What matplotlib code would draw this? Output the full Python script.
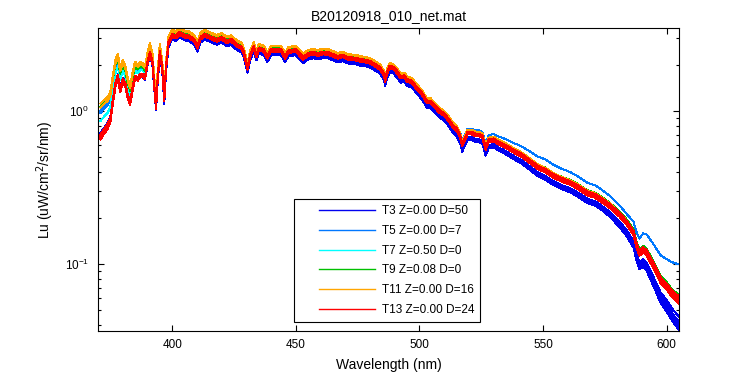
import numpy as np
import matplotlib
matplotlib.use('Agg')
import matplotlib.pyplot as plt
from matplotlib.lines import Line2D
from matplotlib.legend_handler import HandlerLine2D
from matplotlib.ticker import NullFormatter

# base spectrum (red bundle centre)
wavelength = [
    371, 372, 374, 375, 376, 377, 378, 379, 380, 381,
    382, 383, 384, 385, 386, 387, 388, 389, 390, 391,
    392, 393, 393.5, 394, 395, 396, 396.8, 397.5, 398.5, 400,
    401.5, 403, 405, 407, 409, 410.2, 411.5, 413, 415, 417,
    418, 420, 422, 424, 426, 428, 429, 430.5, 431.5, 433,
    434.1, 435, 437, 438.5, 440, 442, 444, 445.7, 447, 450,
    451.5, 453, 455, 457, 459, 461, 463, 465, 467, 469,
    471, 473, 475, 476, 478, 480, 482, 484, 485.5, 486.2,
    487, 488, 489.5, 491, 492.3, 494, 495, 497, 499, 501,
    503, 504.5, 506, 508, 510, 512, 513.5, 515, 516.5, 517.3,
    518.3, 519.5, 521, 522.5, 524, 525.5, 526.8, 528, 530, 532,
    534, 535.6, 538, 541, 544, 548, 551, 554, 557, 561,
    564, 568, 571, 574, 577, 581, 584, 586.6, 588, 589,
    590.5, 592, 593.5, 595, 597.6, 600, 601.6, 603, 605, 606]

lu_base = [
    0.68, 0.72, 0.80, 0.88, 1.15, 1.48, 1.67, 1.37, 1.59, 1.50,
    1.25, 1.13, 1.40, 1.67, 1.62, 1.70, 1.72, 1.65, 2.05, 2.39,
    2.10, 1.30, 1.06, 1.50, 2.43, 1.90, 1.18, 1.90, 2.78, 3.14,
    3.05, 3.23, 3.10, 3.05, 2.90, 2.62, 3.00, 3.14, 3.05, 2.95,
    2.91, 3.00, 2.85, 2.90, 2.70, 2.60, 2.40, 1.91, 2.30, 2.62,
    2.30, 2.55, 2.50, 2.25, 2.50, 2.50, 2.50, 2.25, 2.45, 2.50,
    2.35, 2.22, 2.35, 2.39, 2.35, 2.40, 2.39, 2.32, 2.25, 2.30,
    2.22, 2.20, 2.18, 2.15, 2.13, 2.09, 2.00, 1.91, 1.75, 1.59,
    1.80, 1.95, 1.91, 1.80, 1.67, 1.68, 1.59, 1.55, 1.41, 1.30,
    1.15, 1.15, 1.08, 1.00, 0.95, 0.87, 0.80, 0.76, 0.68, 0.60,
    0.65, 0.72, 0.72, 0.70, 0.70, 0.68, 0.57, 0.64, 0.65, 0.62,
    0.60, 0.58, 0.55, 0.52, 0.48, 0.43, 0.41, 0.38, 0.36, 0.34,
    0.32, 0.29, 0.28, 0.26, 0.24, 0.21, 0.185, 0.16, 0.13, 0.118,
    0.124, 0.118, 0.106, 0.095, 0.078, 0.071, 0.0656, 0.062, 0.058, 0.057]

# ratio of each cast to the base spectrum, read at these wavelengths
wl_ratio = [370, 380, 390, 400, 450, 500, 525, 550, 575, 585, 590, 600, 605]

t3_casts = [
    [1.06, 1.04, 1.00, 0.97, 0.96, 0.95, 0.94, 0.92, 0.92, 0.89, 0.87, 0.82, 0.78],
    [1.04, 1.02, 0.99, 0.96, 0.95, 0.94, 0.93, 0.91, 0.90, 0.86, 0.84, 0.77, 0.72],
    [1.02, 1.01, 0.98, 0.95, 0.94, 0.93, 0.92, 0.89, 0.88, 0.84, 0.81, 0.73, 0.68],
    [1.00, 1.00, 0.97, 0.94, 0.93, 0.92, 0.90, 0.87, 0.86, 0.81, 0.78, 0.69, 0.64]]
t5_casts = [
    [1.50, 1.30, 1.10, 1.05, 1.04, 1.05, 1.07, 1.18, 1.17, 1.14, 1.27, 1.52, 1.72],
    [1.45, 1.25, 1.08, 1.04, 1.03, 1.03, 1.02, 1.02, 1.03, 1.04, 1.05, 1.06, 1.07]]
t7_casts = [
    [1.28, 1.15, 1.06, 1.05, 1.05, 1.04, 1.03, 1.03, 1.03, 1.03, 1.04, 1.05, 1.06]]
t9_casts = [
    [1.62, 1.25, 1.10, 1.05, 1.04, 1.04, 1.04, 1.04, 1.05, 1.05, 1.06, 1.07, 1.08]]
t11_casts = [
    [1.68, 1.36, 1.17, 1.09, 1.07, 1.06, 1.05, 1.04, 1.04, 1.03, 1.03, 1.03, 1.03],
    [1.58, 1.30, 1.14, 1.07, 1.06, 1.05, 1.04, 1.03, 1.03, 1.02, 1.02, 1.02, 1.02]]
t13_casts = [
    [1.00, 1.00, 1.00, 1.00, 1.00, 1.00, 1.00, 1.00, 1.00, 1.00, 1.00, 1.00, 1.00],
    [0.96, 0.97, 0.98, 0.98, 0.98, 0.98, 0.98, 0.97, 0.97, 0.97, 0.96, 0.96, 0.95],
    [1.04, 1.03, 1.02, 1.02, 1.02, 1.02, 1.02, 1.02, 1.03, 1.03, 1.04, 1.05, 1.06],
    [0.98, 0.99, 0.99, 0.99, 0.99, 1.00, 1.00, 0.99, 0.99, 0.99, 0.98, 0.98, 0.98],
    [1.02, 1.01, 1.01, 1.01, 1.01, 1.01, 1.01, 1.01, 1.01, 1.02, 1.02, 1.03, 1.03]]

labels = ['T3 Z=0.00 D=50', 'T5 Z=0.00 D=7', 'T7 Z=0.50 D=0',
          'T9 Z=0.08 D=0', 'T11 Z=0.00 D=16', 'T13 Z=0.00 D=24']
colors = ['#0000f0', '#0078ff', '#00ffff', '#00c000', '#ffa500', '#ff0000']
casts = [t3_casts, t5_casts, t7_casts, t9_casts, t11_casts, t13_casts]

plt.rcParams['font.family'] = ['Liberation Sans', 'DejaVu Sans']
plt.rcParams['font.size'] = 8.5

fig = plt.figure(figsize=(7.5, 3.75), dpi=100)
ax = fig.add_axes([98 / 750, 1 - 331 / 375, 581 / 750, 303 / 375])

base = np.array(lu_base)
for label, color, group in zip(labels, colors, casts):
    for i, r in enumerate(group):
        lu = base * np.interp(wavelength, wl_ratio, r)
        ax.plot(wavelength, lu, color=color, lw=0.75, antialiased=False,
                label=label if i == 0 else None)

ax.set_yscale('log')
ax.set_xlim(370, 605)
ax.set_ylim(0.0365, 3.5)
ax.set_xticks([400, 450, 500, 550, 600])
ax.yaxis.set_minor_formatter(NullFormatter())
ax.tick_params(which='both', direction='in', top=True, right=True, width=0.8)
ax.tick_params(which='major', length=4.3)
ax.tick_params(which='minor', length=2.2)
ax.tick_params(axis='x', pad=6)
ax.tick_params(axis='y', pad=6.5)
for s in ax.spines.values():
    s.set_linewidth(0.8)

ax.set_title('B20120918_010_net.mat', fontsize=10, pad=6)
ax.set_xlabel('Wavelength (nm)', fontsize=10, labelpad=5)
ax.set_ylabel('Lu (uW/cm$^2$/sr/nm)', fontsize=10, labelpad=6)

leg = ax.legend(loc='lower left', bbox_to_anchor=(0.337, 0.030),
                fancybox=False, edgecolor='black', framealpha=1,
                fontsize=8.5, borderpad=0.5, labelspacing=0.66,
                handlelength=6.36, handletextpad=0.6, borderaxespad=0,
                handler_map={Line2D: HandlerLine2D(xpad=1.62)})
leg.get_frame().set_linewidth(0.8)
for h in leg.get_lines():
    h.set_linewidth(1.0)
    h.set_antialiased(True)

fig.savefig('out.png', dpi=100)
